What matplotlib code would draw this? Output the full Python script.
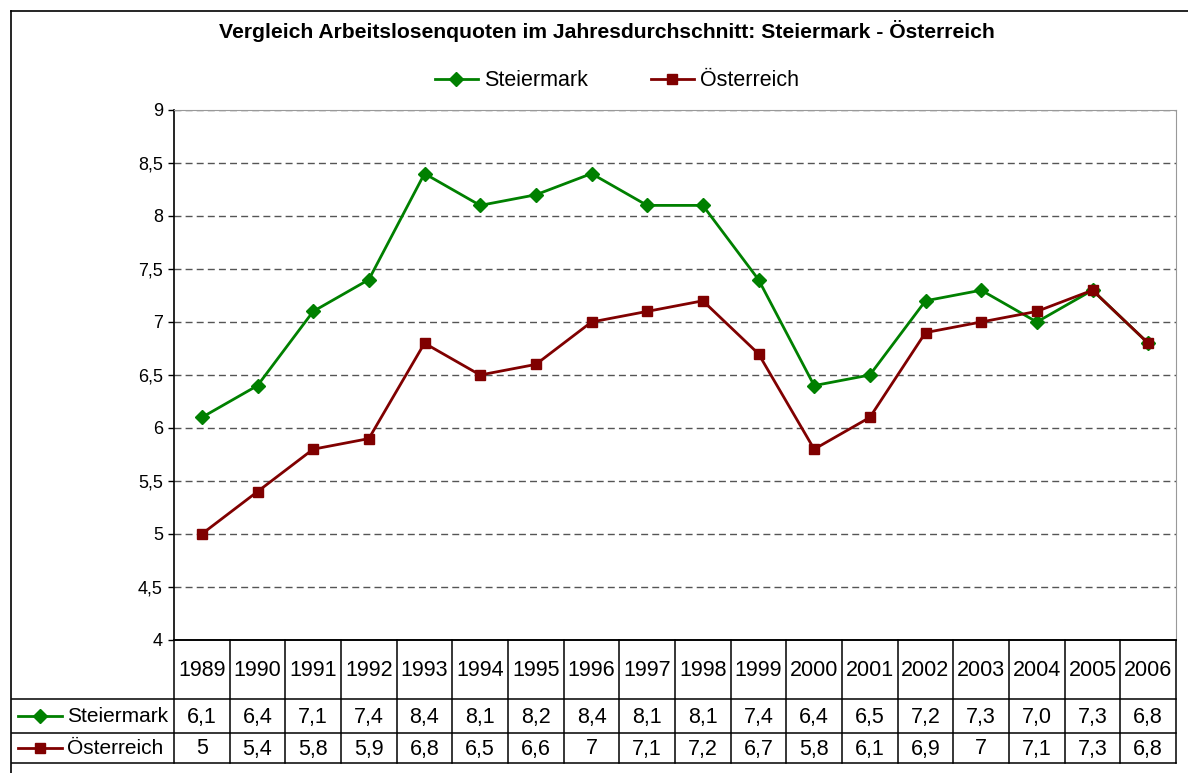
import matplotlib.pyplot as plt
from matplotlib.lines import Line2D

plt.rcParams['font.family'] = ['Liberation Sans', 'DejaVu Sans']

# data
years = [1989, 1990, 1991, 1992, 1993, 1994, 1995, 1996, 1997, 1998,
         1999, 2000, 2001, 2002, 2003, 2004, 2005, 2006]
steiermark = [6.1, 6.4, 7.1, 7.4, 8.4, 8.1, 8.2, 8.4, 8.1, 8.1,
              7.4, 6.4, 6.5, 7.2, 7.3, 7.0, 7.3, 6.8]
oesterreich = [5.0, 5.4, 5.8, 5.9, 6.8, 6.5, 6.6, 7.0, 7.1, 7.2,
               6.7, 5.8, 6.1, 6.9, 7.0, 7.1, 7.3, 6.8]
yticks = [4, 4.5, 5, 5.5, 6, 6.5, 7, 7.5, 8, 8.5, 9]

GREEN = '#008000'
RED = '#800000'
W, H = 1188, 773

fig = plt.figure(figsize=(W / 100, H / 100), dpi=100)

# plot area in pixels
left, right, top, bottom = 174, 1176, 110, 640
ax = fig.add_axes([left / W, 1 - bottom / H, (right - left) / W, (bottom - top) / H])

x = list(range(len(years)))
ax.plot(x, steiermark, color=GREEN, lw=2, marker='D', ms=7, label='Steiermark', zorder=3)
ax.plot(x, oesterreich, color=RED, lw=2, marker='s', ms=7.5, label='Österreich', zorder=4)

ax.set_xlim(-0.5, len(years) - 0.5)
ax.set_ylim(4, 9)
ax.set_yticks(yticks)
ax.set_yticklabels([('%g' % v).replace('.', ',') for v in yticks], fontsize=13)
ax.set_xticks([])
ax.tick_params(axis='y', direction='out', length=4, width=1, pad=4)
ax.yaxis.grid(True, color='#555555', lw=1, linestyle=(0, (5, 3)))
ax.set_axisbelow(True)
for s in ['top', 'right']:
    ax.spines[s].set_color('#999999')
for s in ['left', 'bottom']:
    ax.spines[s].set_color('black')
    ax.spines[s].set_linewidth(1.2)

# title and legend
fig.text(607 / W, 1 - 31 / H, 'Vergleich Arbeitslosenquoten im Jahresdurchschnitt: Steiermark - Österreich',
         ha='center', va='center', fontsize=15.2, fontweight='bold')
fig.legend(loc='center', bbox_to_anchor=(617 / W, 1 - 81 / H), ncol=2, frameon=False,
           fontsize=15.5, handlelength=2.0, columnspacing=2.9, handletextpad=0.3)

# data table below the plot
colw = (right - left) / len(years)
tbot = 763
tab = fig.add_axes([left / W, 1 - tbot / H, (right - left) / W, (tbot - bottom) / H])
tab.set_xlim(-0.5, len(years) - 0.5)
tab.set_ylim(tbot - bottom, 0)
tab.axis('off')


def tx(px):
    return -0.5 + (px - left) / colw


rows = [0, 59, 93, 123]
xl = tx(12)
lc = dict(color='black', lw=1.1, clip_on=False)
tab.plot([-0.5, len(years) - 0.5], [rows[0], rows[0]], **lc)
for r in rows[1:]:
    tab.plot([xl, len(years) - 0.5], [r, r], **lc)
for i in range(len(years) + 1):
    tab.plot([i - 0.5, i - 0.5], [rows[0], rows[3]], **lc)

fs = 15.5
for i, yr in enumerate(years):
    tab.text(i, (rows[0] + rows[1]) / 2 + 1, str(yr), ha='center', va='center', fontsize=fs)
    tab.text(i, (rows[1] + rows[2]) / 2 + 1, ('%.1f' % steiermark[i]).replace('.', ','),
             ha='center', va='center', fontsize=fs)
    tab.text(i, (rows[2] + rows[3]) / 2 + 1, ('%g' % oesterreich[i]).replace('.', ','),
             ha='center', va='center', fontsize=fs)

series = [('Steiermark', GREEN, 'D', 7), ('Österreich', RED, 's', 7.5)]
for k, (name, col, mk, ms) in enumerate(series):
    yc = (rows[k + 1] + rows[k + 2]) / 2
    tab.plot([tx(18), tx(62)], [yc, yc], color=col, lw=2, clip_on=False)
    tab.plot([tx(40)], [yc], color=col, marker=mk, ms=ms, clip_on=False)
    tab.text(tx(67), yc + 1, name, ha='left', va='center', fontsize=15)

# outer chart border
fig.add_artist(Line2D([11 / W, 11 / W], [1 - 11 / H, 0], color='black', lw=1.2))
fig.add_artist(Line2D([11 / W, 1], [1 - 11 / H, 1 - 11 / H], color='black', lw=1.2))

fig.savefig('out.png', dpi=100)
